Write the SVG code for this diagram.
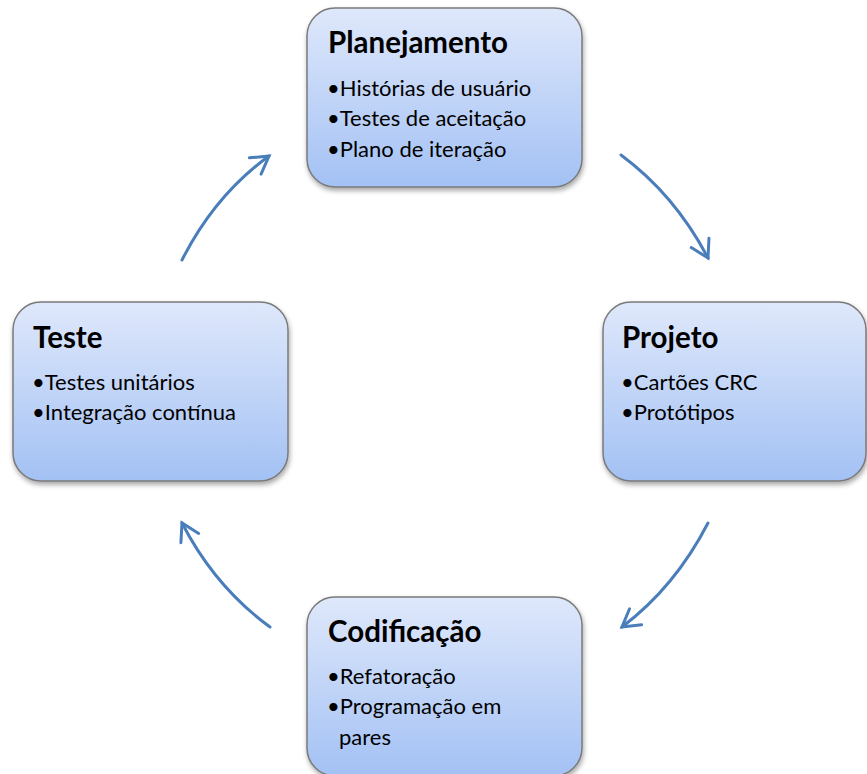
<svg xmlns="http://www.w3.org/2000/svg" width="867" height="774" viewBox="0 0 867 774">
<defs>
<linearGradient id="g" x1="0" y1="0" x2="0" y2="1">
<stop offset="0" stop-color="#dfe8fb"/>
<stop offset="1" stop-color="#a3c1f4"/>
</linearGradient>
<filter id="sh" x="-10%" y="-10%" width="125%" height="130%">
<feDropShadow dx="1" dy="3" stdDeviation="2.5" flood-color="#000" flood-opacity="0.35"/>
</filter>
<marker id="ah" markerUnits="userSpaceOnUse" markerWidth="30" markerHeight="30" refX="0" refY="0" viewBox="-22 -15 30 30" orient="auto" overflow="visible">
<path d="M-17,-10 L0,0 L-17,10" fill="none" stroke="#4a7ebb" stroke-width="3" stroke-linecap="round" stroke-linejoin="miter"/>
</marker>
</defs>
<style>
.box{fill:url(#g);stroke:#7a7a7a;stroke-width:1.5;filter:url(#sh)}
.t{font-family:Lato,"Liberation Sans",sans-serif;font-weight:bold;font-size:29.5px;fill:#000}
.b{font-family:Lato,"Liberation Sans",sans-serif;font-size:22px;fill:#000}
.c{fill:none;stroke:#4a7ebb;stroke-width:3;stroke-linecap:round;marker-end:url(#ah)}
</style>
<rect width="867" height="774" fill="#fff"/>
<g id="connectors">
<path class="c" d="M621,155 Q675,195 708,258"/>
<path class="c" d="M708,523 Q675,587 622,627"/>
<path class="c" d="M270,627 Q215,587 182,523"/>
<path class="c" d="M182,260 Q215,195 269,156"/>
</g>
<g id="planejamento">
<rect class="box" x="307" y="8" width="275" height="179" rx="28"/>
<text class="t" x="328" y="53">Planejamento</text>
<text class="b" x="327" y="96">•Histórias de usuário</text>
<text class="b" x="327" y="126">•Testes de aceitação</text>
<text class="b" x="327" y="157">•Plano de iteração</text>
</g>
<g id="projeto">
<rect class="box" x="603" y="302" width="263" height="179" rx="28"/>
<text class="t" x="622" y="348">Projeto</text>
<text class="b" x="621" y="390">•Cartões CRC</text>
<text class="b" x="621" y="420">•Protótipos</text>
</g>
<g id="codificacao">
<rect class="box" x="307" y="597" width="275" height="179" rx="28"/>
<text class="t" x="328" y="642">Codificação</text>
<text class="b" x="327" y="684">•Refatoração</text>
<text class="b" x="327" y="714">•Programação em</text>
<text class="b" x="339" y="745">pares</text>
</g>
<g id="teste">
<rect class="box" x="13" y="302" width="275" height="179" rx="28"/>
<text class="t" x="33" y="348">Teste</text>
<text class="b" x="32" y="390">•Testes unitários</text>
<text class="b" x="32" y="420">•Integração contínua</text>
</g>
</svg>
